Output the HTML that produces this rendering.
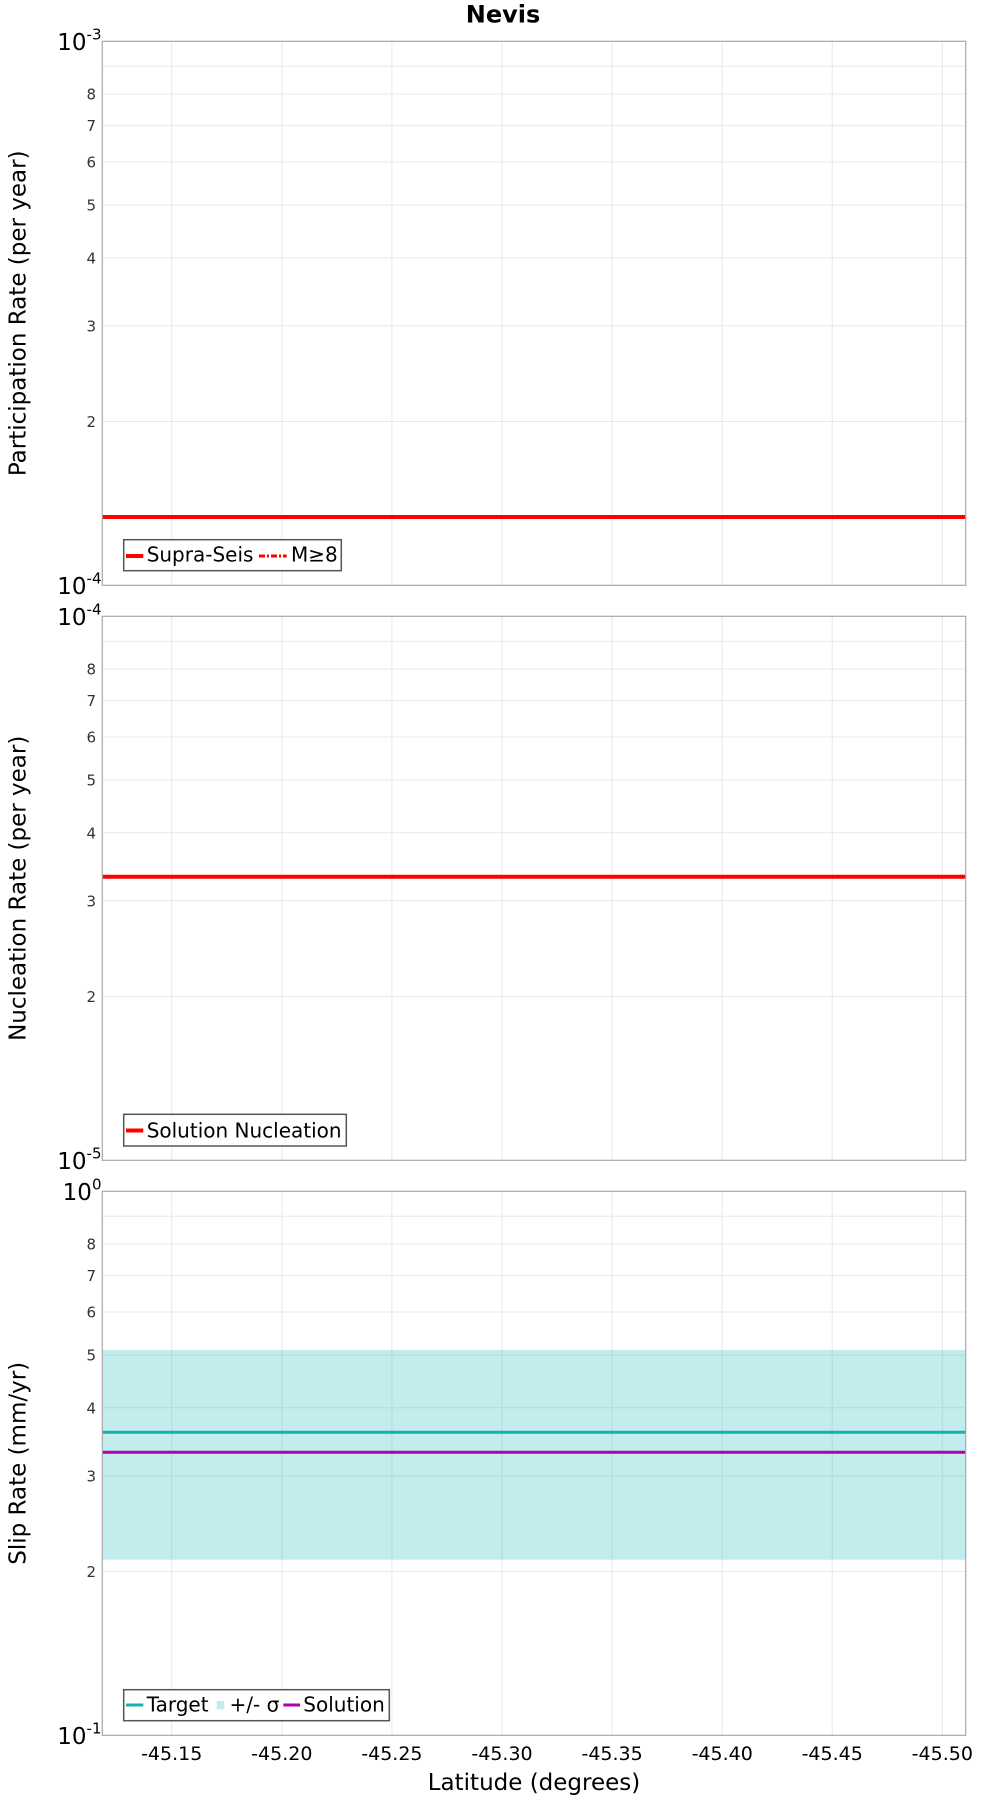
<!DOCTYPE html>
<html><head><meta charset="utf-8"><style>
html,body{margin:0;padding:0;background:#fff;}
svg{display:block;}
text{font-family:"DejaVu Sans","Liberation Sans",sans-serif;fill:#000;}
.g{stroke:#e8e8e8;stroke-width:1;fill:none;}
.yt{font-size:15px;fill:#333;text-anchor:end;}
.dec{font-size:23px;text-anchor:end;}
.xt{font-size:19px;text-anchor:middle;}
.lg{font-size:20px;}
</style></head><body>
<svg width="1000" height="1800" viewBox="0 0 1000 1800" xmlns="http://www.w3.org/2000/svg">
<rect width="1000" height="1800" fill="#fff"/>
<text x="503" y="22.7" font-size="24" font-weight="bold" text-anchor="middle">Nevis</text>

<!-- Panel 1 -->
<g>
<path class="g" d="M102.3 421.5H965.7M102.3 325.8H965.7M102.3 257.8H965.7M102.3 205.1H965.7M102.3 162H965.7M102.3 125.6H965.7M102.3 94H965.7M102.3 66.2H965.7"/>
<path class="g" d="M171.7 41.3V585.3M281.8 41.3V585.3M391.9 41.3V585.3M502 41.3V585.3M612.1 41.3V585.3M722.2 41.3V585.3M832.2 41.3V585.3M942.3 41.3V585.3"/>
<line x1="102.3" y1="517" x2="965.7" y2="517" stroke="#ff0000" stroke-width="4"/>
<rect x="102.3" y="41.3" width="863.4" height="544" fill="none" stroke="#a8a8a8" stroke-width="1.2"/>
<text class="yt" x="96" y="427">2</text>
<text class="yt" x="96" y="331.3">3</text>
<text class="yt" x="96" y="263.3">4</text>
<text class="yt" x="96" y="210.6">5</text>
<text class="yt" x="96" y="167.5">6</text>
<text class="yt" x="96" y="131.1">7</text>
<text class="yt" x="96" y="99.5">8</text>
<text class="dec" x="101.5" y="49.8">10<tspan font-size="15" dy="-10.5">-3</tspan></text>
<text class="dec" x="101.5" y="593.8">10<tspan font-size="15" dy="-10.5">-4</tspan></text>
<rect x="123.7" y="539.7" width="217.6" height="31" fill="#fff" stroke="#555" stroke-width="1.5"/>
<line x1="126" y1="556" x2="143.3" y2="556" stroke="#ff0000" stroke-width="4"/>
<text class="lg" x="146.7" y="561.5">Supra-Seis</text>
<line x1="259" y1="556" x2="286.7" y2="556" stroke="#ff0000" stroke-width="3" stroke-dasharray="6,2,2,2"/>
<text class="lg" x="291" y="561.5">M≥8</text>
<text font-size="23" transform="translate(25.3 313.3) rotate(-90)" text-anchor="middle">Participation Rate (per year)</text>
</g>

<!-- Panel 2 -->
<g>
<path class="g" d="M102.3 996.5H965.7M102.3 900.8H965.7M102.3 832.8H965.7M102.3 780.1H965.7M102.3 737H965.7M102.3 700.6H965.7M102.3 669H965.7M102.3 641.2H965.7"/>
<path class="g" d="M171.7 616.3V1160.3M281.8 616.3V1160.3M391.9 616.3V1160.3M502 616.3V1160.3M612.1 616.3V1160.3M722.2 616.3V1160.3M832.2 616.3V1160.3M942.3 616.3V1160.3"/>
<line x1="102.3" y1="876.7" x2="965.7" y2="876.7" stroke="#ff0000" stroke-width="4"/>
<rect x="102.3" y="616.3" width="863.4" height="544" fill="none" stroke="#a8a8a8" stroke-width="1.2"/>
<text class="yt" x="96" y="1002">2</text>
<text class="yt" x="96" y="906.3">3</text>
<text class="yt" x="96" y="838.3">4</text>
<text class="yt" x="96" y="785.6">5</text>
<text class="yt" x="96" y="742.5">6</text>
<text class="yt" x="96" y="706.1">7</text>
<text class="yt" x="96" y="674.5">8</text>
<text class="dec" x="101.5" y="624.8">10<tspan font-size="15" dy="-10.5">-4</tspan></text>
<text class="dec" x="101.5" y="1168.8">10<tspan font-size="15" dy="-10.5">-5</tspan></text>
<rect x="123.7" y="1114.3" width="222.6" height="31.7" fill="#fff" stroke="#555" stroke-width="1.5"/>
<line x1="126" y1="1130.5" x2="143.3" y2="1130.5" stroke="#ff0000" stroke-width="4"/>
<text class="lg" x="146.7" y="1137.3">Solution Nucleation</text>
<text font-size="23" transform="translate(25.3 888.3) rotate(-90)" text-anchor="middle">Nucleation Rate (per year)</text>
</g>

<!-- Panel 3 -->
<g>
<path class="g" d="M102.3 1571.5H965.7M102.3 1475.8H965.7M102.3 1407.8H965.7M102.3 1355.1H965.7M102.3 1312H965.7M102.3 1275.6H965.7M102.3 1244H965.7M102.3 1216.2H965.7"/>
<path class="g" d="M171.7 1191.3V1735.3M281.8 1191.3V1735.3M391.9 1191.3V1735.3M502 1191.3V1735.3M612.1 1191.3V1735.3M722.2 1191.3V1735.3M832.2 1191.3V1735.3M942.3 1191.3V1735.3"/>
<rect x="102.3" y="1350" width="863.4" height="209.7" fill="rgb(0,178,178)" fill-opacity="0.24"/>
<line x1="102.3" y1="1432.3" x2="965.7" y2="1432.3" stroke="#14b0ac" stroke-width="3"/>
<line x1="102.3" y1="1452.3" x2="965.7" y2="1452.3" stroke="#b000b0" stroke-width="3"/>
<rect x="102.3" y="1191.3" width="863.4" height="544" fill="none" stroke="#a8a8a8" stroke-width="1.2"/>
<text class="yt" x="96" y="1577">2</text>
<text class="yt" x="96" y="1481.3">3</text>
<text class="yt" x="96" y="1413.3">4</text>
<text class="yt" x="96" y="1360.6">5</text>
<text class="yt" x="96" y="1317.5">6</text>
<text class="yt" x="96" y="1281.1">7</text>
<text class="yt" x="96" y="1249.5">8</text>
<text class="dec" x="101.5" y="1199.8">10<tspan font-size="15" dy="-10.5">0</tspan></text>
<text class="dec" x="101.5" y="1743.8">10<tspan font-size="15" dy="-10.5">-1</tspan></text>
<rect x="123.7" y="1689.7" width="265.6" height="31" fill="#fff" stroke="#555" stroke-width="1.5"/>
<line x1="126" y1="1705" x2="143.3" y2="1705" stroke="#14b0ac" stroke-width="3"/>
<text class="lg" x="146.7" y="1711.7">Target</text>
<rect x="216.7" y="1701" width="7.6" height="8.3" fill="rgb(0,178,178)" fill-opacity="0.24"/>
<text class="lg" x="229.5" y="1711.7">+/- σ</text>
<line x1="283.3" y1="1705" x2="300" y2="1705" stroke="#b000b0" stroke-width="3"/>
<text class="lg" x="303.3" y="1711.7">Solution</text>
<text font-size="23" transform="translate(25.3 1463.3) rotate(-90)" text-anchor="middle">Slip Rate (mm/yr)</text>
</g>

<!-- X axis labels -->
<text class="xt" x="171.7" y="1760">-45.15</text>
<text class="xt" x="281.8" y="1760">-45.20</text>
<text class="xt" x="391.9" y="1760">-45.25</text>
<text class="xt" x="502" y="1760">-45.30</text>
<text class="xt" x="612.1" y="1760">-45.35</text>
<text class="xt" x="722.2" y="1760">-45.40</text>
<text class="xt" x="832.2" y="1760">-45.45</text>
<text class="xt" x="942.3" y="1760">-45.50</text>
<text x="534" y="1790" font-size="23" text-anchor="middle">Latitude (degrees)</text>
</svg>
</body></html>
